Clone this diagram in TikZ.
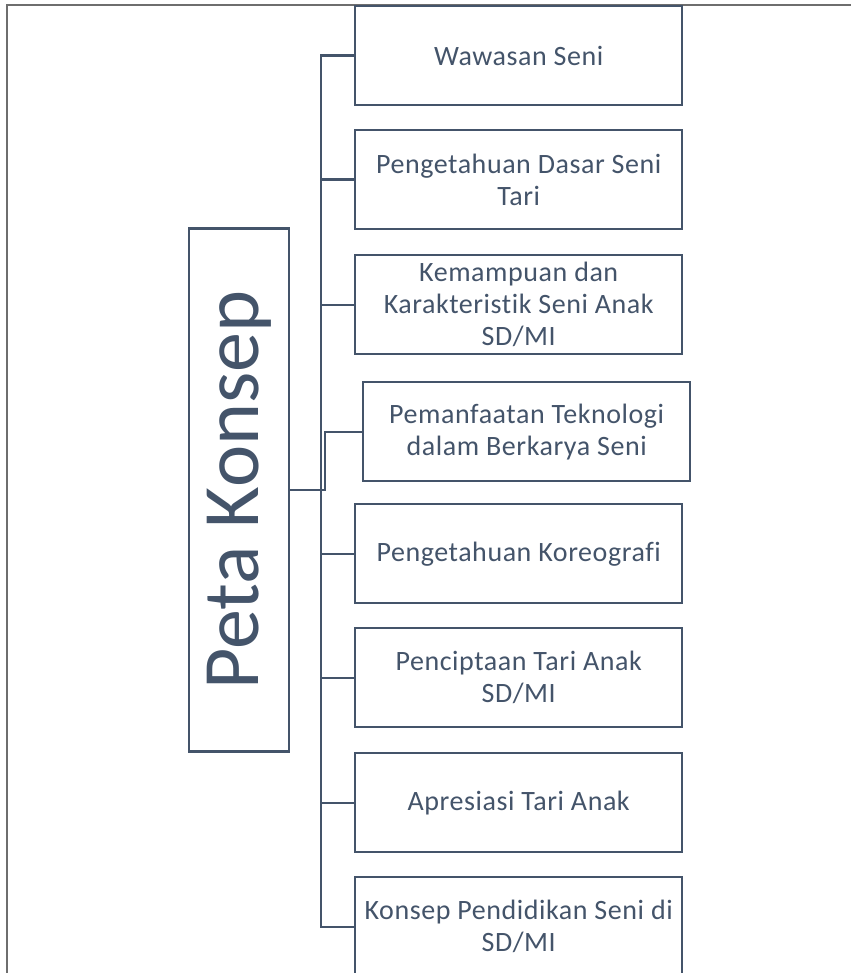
\documentclass[tikz,border=0pt]{standalone}
\usepackage{fontspec}
\setmainfont{Carlito}
\newfontfamily\itemfont[LetterSpace=2.0,Ligatures=NoCommon]{Carlito}
\definecolor{slate}{HTML}{44546A}
\definecolor{pageline}{HTML}{6E6E6E}
\begin{document}
\begin{tikzpicture}[x=1pt,y=-1pt,
  item/.style={draw=slate, line width=2.4pt, fill=white, text=slate,
    minimum width=327pt, minimum height=99pt, inner sep=0pt,
    align=center, font=\itemfont\fontsize{28}{32}\selectfont, anchor=north west},
  conn/.style={draw=slate, line width=2.4pt}]
\useasboundingbox (0,0) rectangle (851,973);
\clip (0,0) rectangle (851,973);
\fill[white] (0,0) rectangle (851,973);
% page border
\draw[pageline, line width=2.2pt] (7,973) -- (7,5) -- (851,5);
% center node
\node[draw=slate, line width=2.4pt, fill=white, text=slate,
  minimum width=523pt, minimum height=100pt, inner sep=0pt,
  rotate=90, font=\fontsize{80}{90}\selectfont] (peta) at (239,490) {Peta Konsep};
% items
\node[item] (b1) at (354,5) {Wawasan Seni};
\node[item] (b2) at (354,129) {Pengetahuan Dasar Seni\\Tari};
\node[item] (b3) at (354,254) {Kemampuan dan\\Karakteristik Seni Anak\\SD/MI};
\node[item] (b4) at (362,381) {Pemanfaatan Teknologi\\dalam Berkarya Seni};
\node[item] (b5) at (354,503) {Pengetahuan Koreografi};
\node[item] (b6) at (354,627) {Penciptaan Tari Anak\\SD/MI};
\node[item] (b7) at (354,752) {Apresiasi Tari Anak};
\node[item] (b8) at (354,876) {Konsep Pendidikan Seni di\\SD/MI};
% trunk
\coordinate (tx) at (321,0);
\coordinate (jx) at (325,0);
\draw[conn] (b1.west) -| (tx |- b8.west) -- (b8.west);
\foreach \b in {b2,b3,b5,b6,b7}{
  \draw[conn] (\b.west) -- (tx |- \b.west);
}
\draw[conn] (peta.south) -- (jx |- peta.south) |- (b4.west);
\end{tikzpicture}
\end{document}
